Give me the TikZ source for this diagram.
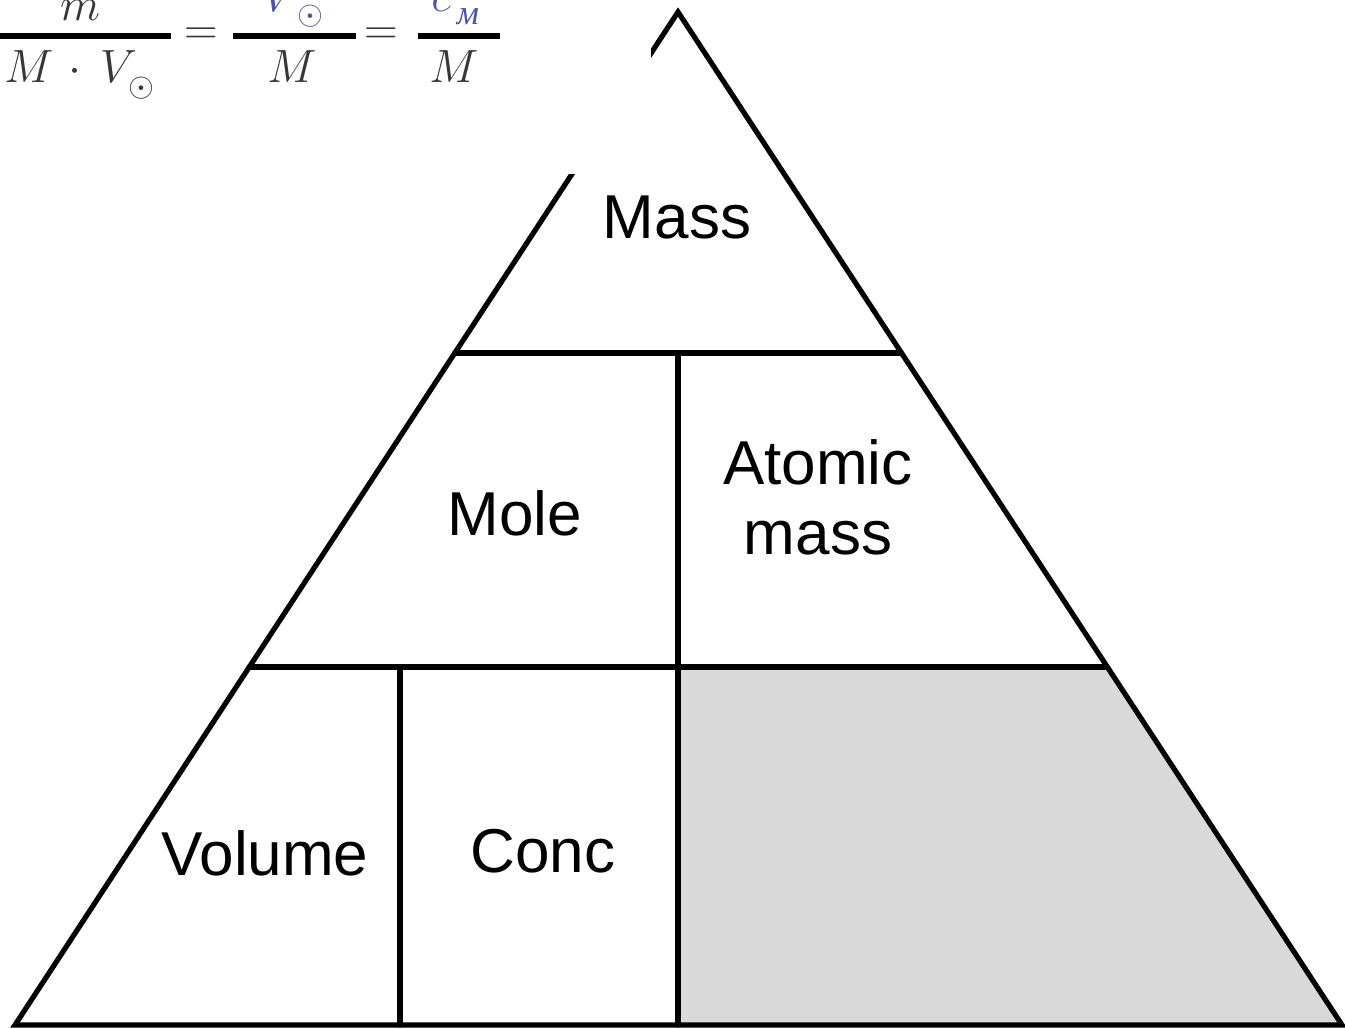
\documentclass[tikz,border=0pt]{standalone}
\usepackage{fix-cm}
\usepackage{fontspec}
\setmainfont{Liberation Sans}
\newfontfamily\cyrserif{Liberation Serif}
\definecolor{cellgrey}{HTML}{D9D9D9}
\definecolor{fblue}{RGB}{80,80,175}
\definecolor{fgray}{RGB}{55,55,55}
\begin{document}
\begin{tikzpicture}[x=0.75pt,y=-0.75pt,
  edge/.style={line width=3.9pt,line cap=round,line join=miter},
  lbl/.style={inner sep=0pt,font=\fontsize{46.5}{52.5}\selectfont,align=center},
  fml/.style={inner sep=0pt,text=fgray,font=\fontsize{35}{40}\selectfont},
  fsub/.style={inner sep=0pt,font=\fontsize{25}{28}\selectfont},
  fbar/.style={line width=3.8pt}]
\useasboundingbox (0,0) rectangle (1345,1028);
\clip (0,0) rectangle (1345,1028);
% corners
\coordinate (A) at (678,12);
\coordinate (BL) at (15,1025);
\coordinate (BR) at (1342,1025);
\coordinate (L1) at (454.8,353);
\coordinate (R1) at (901.2,353);
\coordinate (L2) at (249.3,667);
\coordinate (R2) at (1106.7,667);
\coordinate (M1) at (678,353);
\coordinate (M2) at (678,667);
\coordinate (MB) at (678,1025);
\coordinate (V2) at (400,667);
\coordinate (VB) at (400,1025);
% grey cell
\fill[cellgrey] (M2) -- (R2) -- (BR) -- (MB) -- cycle;
% triangle and dividers
\draw[edge] (A) -- (BL) -- (BR) -- cycle;
\draw[edge] (L1) -- (R1);
\draw[edge] (L2) -- (R2);
\draw[edge] (M1) -- (MB);
\draw[edge] (V2) -- (VB);
% labels
\node[lbl] (mass) at (677,217) {Mass};
\node[lbl] (mole) at (515,513) {Mole};
\node[lbl] (atomic) at (818,497) {Atomic\\mass};
\node[lbl] (volume) at (265,853) {Volume};
\node[lbl] (conc) at (543,851) {Conc};
% white patch of the pasted formula
\fill[white] (0,0) rectangle (651,174);
% formula
\node[fml,anchor=base] (num1) at (80,20) {$m$};
\draw[fbar] (0,36) -- (171,36);
\node[fml,anchor=base west] (den1) at (4,82) {$M\mkern2mu\cdot\mkern3mu V$};
\node[fsub,text=fgray] (sub1) at (141,88) {$\odot$};
\node[fml] (eq1) at (201,36) {$=$};
\node[fml,anchor=base west,text=fblue] (num2) at (262,12) {$V$};
\node[fsub,text=fblue] (sub2) at (310,16) {$\odot$};
\draw[fbar] (233,36) -- (356,36);
\node[fml,anchor=base] (den2) at (292,82) {$M$};
\node[fml] (eq2) at (381,36) {$=$};
\node[fml,anchor=base west,text=fblue] (num3) at (431,12) {$c$};
\node[inner sep=0pt,text=fblue,font=\fontsize{26}{30}\selectfont\cyrserif\itshape,anchor=base] (sub3) at (468,24) {м};
\draw[fbar] (418,36) -- (500,36);
\node[fml,anchor=base] (den3) at (454,82) {$M$};
\end{tikzpicture}
\end{document}
